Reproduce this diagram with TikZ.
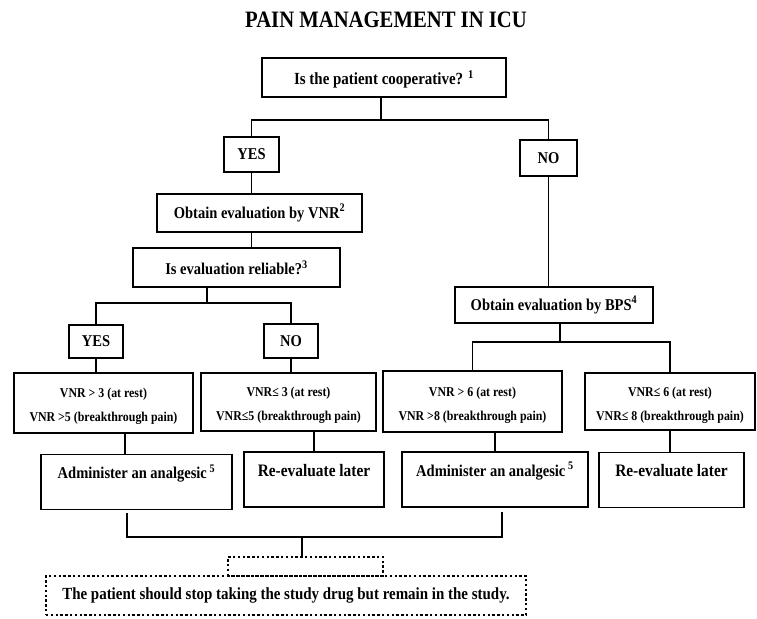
\documentclass[tikz,border=0pt]{standalone}
\usepackage{fontspec}
\setmainfont{Liberation Serif}[FakeStretch=0.88]
\begin{document}
\begin{tikzpicture}[x=1pt,y=-1pt,
	box/.style={draw,line width=1.6pt,inner sep=3pt,font=\fontsize{16.5}{18}\selectfont\bfseries},
	scorebox/.style={box,align=center,text height=41pt,text depth=4pt,font=\fontsize{13.5}{24}\selectfont\bfseries},
	actbox/.style={box,text height=20pt,text depth=27pt,inner ysep=4pt},
	dotbox/.style={draw,line width=2.4pt,dash pattern=on 2.4pt off 2.4pt,font=\fontsize{17}{19}\selectfont\bfseries},
	link/.style={line width=1.2pt}]
	\useasboundingbox (0,0) rectangle (757,618);
	\node (title) at (386,20)[font=\fontsize{23.5}{26}\selectfont\bfseries]{PAIN MANAGEMENT IN ICU};
	\node (coop) at (384,77.5)[box,line width=2pt,text height=18pt,text depth=4pt,font=\fontsize{17}{19}\selectfont\bfseries,minimum width=244pt,minimum height=39pt]{Is the patient cooperative? \textsuperscript{1}};
	\node (yes1) at (251.5,154.5)[box,minimum width=55pt,minimum height=35pt]{YES};
	\node (no1) at (548.5,158)[box,minimum width=57pt,minimum height=36pt]{NO};
	\node (vnr) at (259.5,213)[box,minimum width=205pt,minimum height=38pt]{Obtain evaluation by VNR\textsuperscript{2}};
	\node (rel) at (236.5,267.5)[box,minimum width=207pt,minimum height=39pt]{Is evaluation reliable?\textsuperscript{3}};
	\node (bps) at (554,305)[box,minimum width=198pt,minimum height=36pt]{Obtain evaluation by BPS\textsuperscript{4}};
	\node (yes2) at (96,341.5)[box,minimum width=54pt,minimum height=33pt]{YES};
	\node (no2) at (291,341)[box,minimum width=54pt,minimum height=34pt]{NO};
	% VNR thresholds
	\node (c1) at (103.5,403)[scorebox,minimum width=179pt,minimum height=60pt]{VNR > 3 (at rest)\\VNR >5 (breakthrough pain)};
	\node (c2) at (288.5,402)[scorebox,minimum width=175pt,minimum height=58pt]{VNR≤ 3 (at rest)\\VNR≤5 (breakthrough pain)};
	\node (c3) at (472.5,401.5)[scorebox,minimum width=179pt,minimum height=61pt]{VNR > 6 (at rest)\\VNR >8 (breakthrough pain)};
	\node (c4) at (670,401.5)[scorebox,minimum width=170pt,minimum height=57pt]{VNR≤ 6 (at rest)\\VNR≤ 8 (breakthrough pain)};
	\node (a1) at (136.5,482)[actbox,minimum width=191pt,minimum height=54pt]{Administer an analgesic\,\textsuperscript{5}};
	\node (r1) at (314,479.5)[actbox,font=\fontsize{17.5}{19}\selectfont\bfseries,minimum width=140pt,minimum height=55pt]{Re-evaluate later};
	\node (a2) at (495,479.5)[actbox,minimum width=186pt,minimum height=55pt]{Administer an analgesic\,\textsuperscript{5}};
	\node (r2) at (671.5,480)[actbox,font=\fontsize{17.5}{19}\selectfont\bfseries,minimum width=145pt,minimum height=54pt]{Re-evaluate later};
	\node (tab) at (305.5,566.5)[dotbox,minimum width=155pt,minimum height=19pt]{};
	\node (stop) at (286,595.5)[dotbox,minimum width=480pt,minimum height=39pt]{The patient should stop taking the study drug but remain in the study.};
	% connectors
	\coordinate (j1) at (381,120);
	\draw[link] (coop.south -| j1) -- (j1);
	\draw[link] (yes1.north) |- (j1) -| (no1.north);
	\draw[link] (yes1.south) -- (yes1.south |- vnr.north);
	\draw[link] (yes1.south |- vnr.south) -- (yes1.south |- rel.north);
	\coordinate (j2) at (207,303);
	\draw[link] (rel.south -| j2) -- (j2);
	\draw[link] (yes2.north) |- (j2) -| (no2.north);
	\draw[link] (yes2.south) -- (yes2.south |- c1.north);
	\draw[link] (no2.south) -- (no2.south |- c2.north);
	\draw[link] (no1.south) -- (no1.south |- bps.north);
	\coordinate (j3) at (560,342);
	\draw[link] (bps.south -| j3) -- (j3);
	\draw[link] (c3.north) |- (j3) -| (c4.north);
	\coordinate (l1) at (125,0);
	\draw[link] (c1.south -| l1) -- (a1.north -| l1);
	\draw[link] (r1.north |- c2.south) -- (r1.north);
	\draw[link] (a2.north |- c3.south) -- (a2.north);
	\draw[link] (c4.south) -- (c4.south |- r2.north);
	\coordinate (m1) at (127,513);
	\coordinate (m2) at (502,512);
	\coordinate (b) at (302,537);
	\draw[link] (m1) |- (b) -| (m2);
	\draw[link] (b) -- (b |- tab.north);
\end{tikzpicture}
\end{document}
